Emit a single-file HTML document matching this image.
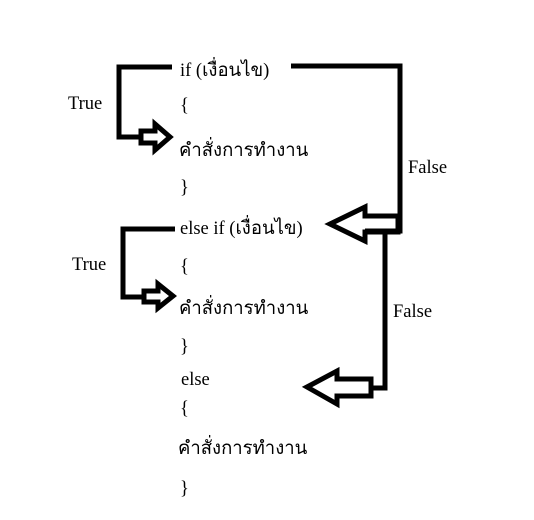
<!DOCTYPE html>
<html><head><meta charset="utf-8"><style>
html,body{margin:0;padding:0;background:#fff;width:534px;height:520px;overflow:hidden}
svg{display:block}
text{font-family:"Liberation Serif","DejaVu Serif",serif;font-size:18.5px;fill:#000}
</style></head><body>
<svg width="534" height="520" viewBox="0 0 534 520">
<g fill="none" stroke="#000" stroke-width="5" stroke-linejoin="miter">
<polyline points="172,67 119,67 119,137 140,137"/>
<polygon points="141,131 155,131 155,124 170,137 155,150 155,143 141,143"/>
<polyline points="291,66 400,66 400,231 365,231"/>
<polygon points="365,216 365,207 330,224 365,241 365,232 398,232 398,216"/>
<polyline points="385,233 385,388 370,388"/>
<polygon points="337,379 337,371 307,387 337,404 337,396 371,396 371,379"/>
<polyline points="175,229 123,229 123,297 143,297"/>
<polygon points="144,291 158,291 158,284 173,296 158,308 158,302 144,302"/>
</g>
<text x="180" y="76">if (เงื่อนไข)</text>
<text x="180" y="111">{</text>
<text x="179" y="156">คำสั่งการทำงาน</text>
<text x="180" y="193">}</text>
<text x="180" y="234">else if (เงื่อนไข)</text>
<text x="180" y="272">{</text>
<text x="179" y="314">คำสั่งการทำงาน</text>
<text x="180" y="352">}</text>
<text x="181" y="385">else</text>
<text x="180" y="414">{</text>
<text x="178" y="454">คำสั่งการทำงาน</text>
<text x="180" y="494">}</text>
<text x="68" y="109">True</text>
<text x="72" y="270">True</text>
<text x="408" y="173">False</text>
<text x="393" y="317">False</text>
</svg>
</body></html>
